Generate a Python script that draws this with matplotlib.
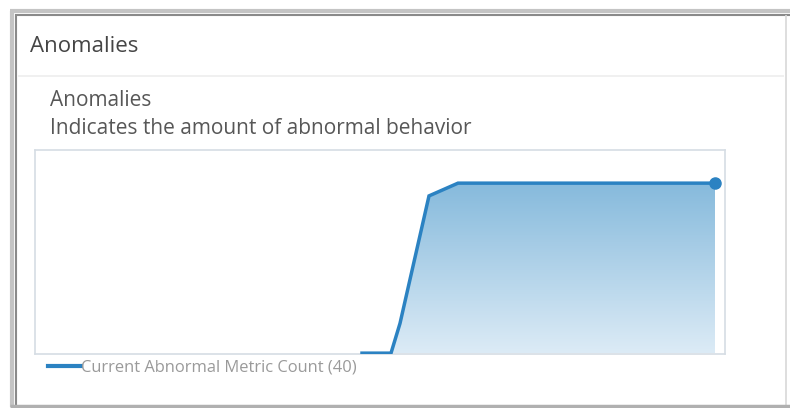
import numpy as np
import matplotlib.pyplot as plt
from matplotlib.lines import Line2D

# Datos (eje x en minutos relativos, eje y = métricas anómalas)
t = [327, 356, 365, 394, 423, 500, 600, 680]
count = [0, 0, 7, 37, 40, 40, 40, 40]
header = "Anomalies"
subtitle = "Anomalies"
description = "Indicates the amount of abnormal behavior"
legend_label = "Current Abnormal Metric Count (40)"

W, H = 790, 408
fig = plt.figure(figsize=(W / 100, H / 100), dpi=100)
fig.patch.set_facecolor("white")

def fx(px):
    return px / W

def fy(py):
    return 1 - py / H

def fline(x0, y0, x1, y1, color, lw):
    fig.add_artist(Line2D([fx(x0), fx(x1)], [fy(y0), fy(y1)],
                          transform=fig.transFigure, color=color, linewidth=lw,
                          solid_capstyle="butt"))

# Marco exterior
fline(12, 11, 12, 407, "#c4c4c4", 3)       # izquierda clara
fline(16, 14, 16, 405, "#8a8a8a", 1.5)     # izquierda oscura
fline(10, 11, 790, 11, "#c4c4c4", 3)       # arriba clara
fline(15, 14.5, 790, 14.5, "#8a8a8a", 1.5) # arriba oscura
fline(786, 15, 786, 405, "#d8d8d8", 1.2)   # derecha
fline(10, 406, 790, 406, "#b0b0b0", 2.5)   # abajo
# Separador de cabecera
fline(18, 76, 784, 76, "#eeeeee", 1.2)

fig.text(fx(30), fy(46), header, fontsize=16, color="#454545", va="center",
         family="Open Sans")
fig.text(fx(50), fy(101), subtitle, fontsize=15, color="#575757", va="center",
         family="Open Sans")
fig.text(fx(50), fy(128), description, fontsize=15, color="#575757", va="center",
         family="Open Sans")

ax = fig.add_axes([fx(35), fy(354), 690 / W, 204 / H])
ax.set_xlim(0, 690)
ax.set_ylim(-0.2, 47.8)
ax.set_xticks([])
ax.set_yticks([])
for s in ax.spines.values():
    s.set_color("#d6dde4")
    s.set_linewidth(1.2)

line_color = "#2b82c2"

# Relleno con degradado
poly = ax.fill_between(t, count, 0, color="none")
grad = np.linspace(0, 1, 256).reshape(-1, 1)
c_top = np.array([134, 186, 220]) / 255
c_bot = np.array([220, 235, 246]) / 255
img = c_bot + (c_top - c_bot) * grad
img = img[:, None, :].repeat(2, axis=1)
im = ax.imshow(img, extent=[min(t), max(t), 0, max(count)], origin="lower",
               aspect="auto", zorder=1)
im.set_clip_path(poly.get_paths()[0], transform=ax.transData)

ax.plot(t, count, color=line_color, linewidth=2.5, zorder=3, solid_joinstyle="miter")
ax.plot(t[-1], count[-1], "o", color=line_color, markersize=8, zorder=4)

# Leyenda
handle = Line2D([], [], color=line_color, linewidth=3)
leg = fig.legend([handle], [legend_label], loc="center left",
                 bbox_to_anchor=(fx(36), fy(368)), frameon=False,
                 handlelength=2.0, handletextpad=0.0, borderpad=0.2,
                 prop={"family": "Open Sans", "size": 11.9})
for txt in leg.get_texts():
    txt.set_color("#9a9a9a")

fig.savefig("out.png", dpi=100)
